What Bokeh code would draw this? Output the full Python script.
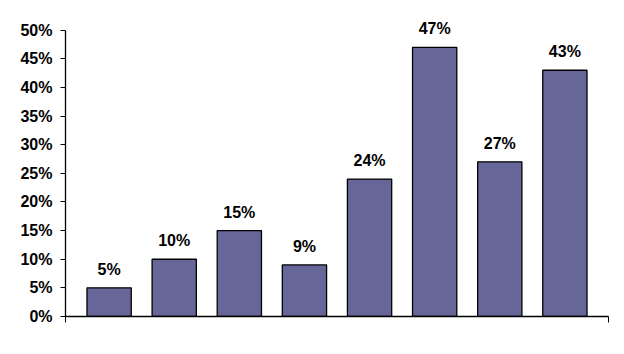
from bokeh.plotting import figure
from bokeh.models import ColumnDataSource, FixedTicker, Range1d, CustomJSTickFormatter, LabelSet
from bokeh.core.properties import value
from bokeh.embed import file_html
from bokeh.resources import INLINE

positions = [0, 1, 2, 3, 4, 5, 6, 7]
values = [5, 10, 15, 9, 24, 47, 27, 43]
labels = ["5%", "10%", "15%", "9%", "24%", "47%", "27%", "43%"]
y_ticks = [0, 5, 10, 15, 20, 25, 30, 35, 40, 45, 50]

src = ColumnDataSource(dict(x=positions, top=values, label=labels))

p = figure(width=624, height=354, output_backend="svg", toolbar_location=None,
           x_range=Range1d(-0.67, 7.67), y_range=Range1d(0, 55),
           min_border_left=65, min_border_right=16, min_border_top=1, min_border_bottom=38)
p.outline_line_color = None
p.xgrid.grid_line_color = None
p.ygrid.grid_line_color = None
p.background_fill_color = "white"
p.border_fill_color = "white"

p.vbar(x="x", top="top", bottom=0, width=0.68, source=src,
       fill_color="#666699", line_color="black", line_width=1.3)

p.text(x="x", y="top", text="label", source=src, y_offset=-10,
       text_align="center", text_baseline="bottom",
       text_font=value("Liberation Sans"), text_font_size="16px",
       text_font_style="bold", text_color="black")

p.yaxis.bounds = (0, 50)
p.yaxis.ticker = FixedTicker(ticks=y_ticks)
p.yaxis.formatter = CustomJSTickFormatter(code="return tick + '%';")
p.yaxis.major_label_text_font = "Liberation Sans"
p.yaxis.major_label_text_font_size = "16px"
p.yaxis.major_label_text_font_style = "bold"
p.yaxis.major_label_text_color = "black"
p.yaxis.major_tick_out = 5
p.yaxis.major_tick_in = 0
p.yaxis.minor_tick_line_color = None
p.yaxis.major_label_standoff = 8
p.yaxis.axis_line_color = "black"
p.yaxis.axis_line_width = 1.3

p.xaxis.ticker = FixedTicker(ticks=[-0.67, 7.67])
p.xaxis.major_label_text_color = None
p.xaxis.major_label_text_font_size = "1px"
p.xaxis.major_tick_out = 6
p.xaxis.major_tick_in = 0
p.xaxis.minor_tick_line_color = None
p.xaxis.axis_line_color = "black"
p.xaxis.axis_line_width = 1.3

open("out.html", "w").write(file_html(p, INLINE))
